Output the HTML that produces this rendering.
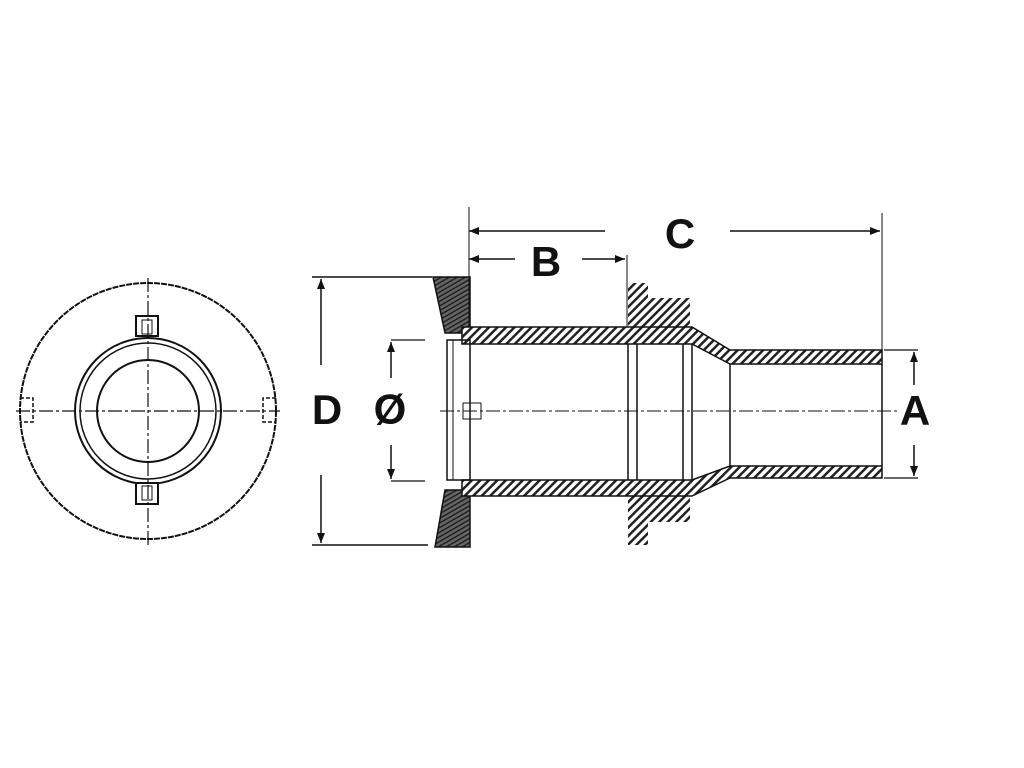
<!DOCTYPE html>
<html><head><meta charset="utf-8"><style>html,body{margin:0;padding:0;background:#fff}svg{display:block}</style></head>
<body>
<svg width="1024" height="768" viewBox="0 0 1024 768" xmlns="http://www.w3.org/2000/svg">
<defs>
<pattern id="h" width="6" height="6" patternUnits="userSpaceOnUse" patternTransform="rotate(45)">
<rect width="6" height="6" fill="#fff"/><rect width="2.5" height="6" fill="#222"/></pattern>
<pattern id="d" width="4" height="4" patternUnits="userSpaceOnUse" patternTransform="rotate(60)">
<rect width="4" height="4" fill="#666"/><rect width="1.5" height="4" fill="#222"/></pattern>
<marker id="a" markerWidth="10" markerHeight="8" refX="10" refY="4" orient="auto" markerUnits="userSpaceOnUse"><path d="M0,0 L10,4 L0,8z" fill="#111"/></marker>
</defs>
<g fill="none" stroke="#111" stroke-width="2">
<circle cx="148" cy="411" r="128" stroke-dasharray="6 1"/>
<circle cx="148" cy="411" r="73"/>
<circle cx="148" cy="411" r="68" stroke-width="1.5"/>
<circle cx="148" cy="411" r="51"/>
<rect x="136" y="316" width="22" height="20" fill="#fff"/>
<rect x="142" y="320" width="10" height="14" stroke-width="1"/>
<rect x="136" y="483" width="22" height="21" fill="#fff"/>
<rect x="142" y="486" width="10" height="14" stroke-width="1"/>
<path d="M20,398 H33 V422 H20 M276,398 H263 V422 H276" stroke-dasharray="4 2" stroke-width="1.5"/>
<path d="M148,278 V545 M16,411 H280" stroke-width="1.2" stroke-dasharray="14 3 3 3"/>
</g>
<g stroke="#111" stroke-width="1.5">
<path d="M433,277 H470 V333 H445 Z" fill="url(#d)"/>
<path d="M445,490 H470 V547 H435 Z" fill="url(#d)"/>
<path d="M628,283 H648 V298 H690 V330 H628 Z" fill="url(#h)" stroke="none"/>
<path d="M628,496 H690 V522 H648 V545 H628 Z" fill="url(#h)" stroke="none"/>
<path d="M462,327 H692 L730,350 H882 V364 H730 L692,344 H462 Z" fill="url(#h)"/>
<path d="M462,480 H692 L730,466 H882 V478 H730 L692,496 H462 Z" fill="url(#h)"/>
</g>
<g fill="none" stroke="#111" stroke-width="1.5">
<rect x="447" y="340" width="23" height="140"/>
<line x1="453" y1="340" x2="453" y2="480" stroke-width="1"/>
<rect x="463" y="403" width="18" height="16" stroke-width="1"/>
<line x1="628" y1="344" x2="628" y2="480"/>
<line x1="637" y1="344" x2="637" y2="480"/>
<line x1="683" y1="344" x2="683" y2="480"/>
<line x1="692" y1="344" x2="692" y2="480"/>
<line x1="730" y1="364" x2="730" y2="466"/>
<line x1="882" y1="364" x2="882" y2="466"/>
<line x1="440" y1="411" x2="900" y2="411" stroke-width="1" stroke-dasharray="14 3 3 3"/>
<line x1="469" y1="207" x2="469" y2="327" stroke-width="1"/>
<line x1="627" y1="255" x2="627" y2="327" stroke-width="1"/>
<line x1="882" y1="213" x2="882" y2="350" stroke-width="1"/>
<line x1="605" y1="231" x2="469" y2="231" marker-end="url(#a)"/>
<line x1="730" y1="231" x2="880" y2="231" marker-end="url(#a)"/>
<line x1="515" y1="259" x2="469" y2="259" marker-end="url(#a)"/>
<line x1="582" y1="259" x2="625" y2="259" marker-end="url(#a)"/>
<line x1="312" y1="277" x2="432" y2="277" stroke-width="1.5"/>
<line x1="312" y1="545" x2="428" y2="545" stroke-width="1.5"/>
<line x1="321" y1="365" x2="321" y2="279" marker-end="url(#a)"/>
<line x1="321" y1="475" x2="321" y2="543" marker-end="url(#a)"/>
<line x1="391" y1="340" x2="425" y2="340" stroke-width="1.2"/>
<line x1="391" y1="481" x2="425" y2="481" stroke-width="1.2"/>
<line x1="391" y1="378" x2="391" y2="342" marker-end="url(#a)"/>
<line x1="391" y1="445" x2="391" y2="479" marker-end="url(#a)"/>
<line x1="884" y1="350" x2="918" y2="350" stroke-width="1.2"/>
<line x1="884" y1="478" x2="918" y2="478" stroke-width="1.2"/>
<line x1="914" y1="385" x2="914" y2="352" marker-end="url(#a)"/>
<line x1="914" y1="445" x2="914" y2="476" marker-end="url(#a)"/>
</g>
<g font-family="Liberation Sans, sans-serif" font-size="42" font-weight="bold" fill="#111" text-anchor="middle">
<text x="680" y="248">C</text>
<text x="546" y="276">B</text>
<text x="327" y="424">D</text>
<text x="390" y="424">Ø</text>
<text x="915" y="425">A</text>
</g>
</svg>
</body></html>
